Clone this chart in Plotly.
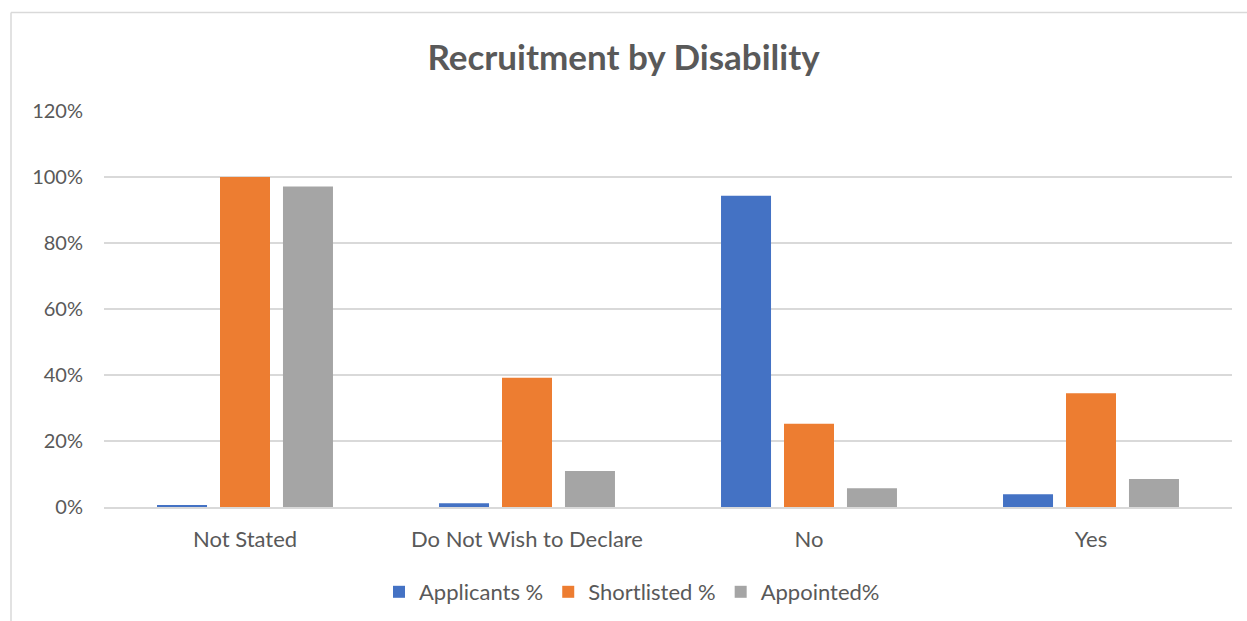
import plotly.graph_objects as go

categories = ["Not Stated", "Do Not Wish to Declare", "No", "Yes"]
applicants = [0.006, 0.011, 0.943, 0.039]
shortlisted = [1.00, 0.392, 0.252, 0.345]
appointed = [0.971, 0.109, 0.057, 0.085]
series_names = ["Applicants %", "Shortlisted %", "Appointed%"]
colors = ["#4472C4", "#ED7D31", "#A5A5A5"]
y_ticks = [0, 0.2, 0.4, 0.6, 0.8, 1.0, 1.2]

W, H = 1247, 621
L, R, T, B = 104, 15, 111, 114
pw, ph = W - L - R, H - T - B

FONT = "Lato, 'Open Sans', sans-serif"
TXT = "#595959"

fig = go.Figure()
for name, vals, c in zip(series_names, [applicants, shortlisted, appointed], colors):
    fig.add_trace(go.Bar(x=categories, y=vals, name=name, marker=dict(color=c, line=dict(width=0))))

def px_to_paper_x(x):
    return (x - L) / pw

def px_to_paper_y(y):
    return (H - B - y) / ph

fig.update_layout(
    width=W, height=H,
    margin=dict(l=L, r=R, t=T, b=B, autoexpand=False),
    paper_bgcolor="white", plot_bgcolor="white",
    barmode="group", bargap=0.33, bargroupgap=0.206,
    title=dict(text="<b>Recruitment by Disability</b>", x=0.5, xanchor="center",
               y=1 - 58 / H, yanchor="middle",
               font=dict(family=FONT, size=35, color=TXT)),
    font=dict(family=FONT, size=22, color=TXT),
    legend=dict(orientation="h", x=px_to_paper_x(632), xanchor="center", y=px_to_paper_y(592), yanchor="middle",
                font=dict(family=FONT, size=22, color=TXT), itemwidth=30, traceorder="normal"),
    xaxis=dict(showgrid=False, showline=True, linecolor="#D9D9D9", linewidth=2, automargin=False,
               ticks="", ticklabelstandoff=12, tickfont=dict(size=22, color=TXT)),
    yaxis=dict(range=[0, 1.2], tickvals=y_ticks, tickformat=".0%", showgrid=True, automargin=False,
               gridcolor="#D9D9D9", gridwidth=1.5, zeroline=False, showline=False,
               ticks="", ticklabelstandoff=20, tickfont=dict(size=20, color=TXT)),
    shapes=[
        dict(type="line", xref="paper", yref="paper", x0=px_to_paper_x(11), x1=px_to_paper_x(W + 5),
             y0=px_to_paper_y(12.5), y1=px_to_paper_y(12.5), line=dict(color="#D9D9D9", width=1.5)),
        dict(type="line", xref="paper", yref="paper", x0=px_to_paper_x(11), x1=px_to_paper_x(11),
             y0=px_to_paper_y(12.5), y1=px_to_paper_y(H + 5), line=dict(color="#D9D9D9", width=1.5)),
    ],
)

fig.write_html("out.html", config={"displayModeBar": False},
               post_script="document.body.style.margin='0';document.body.style.overflow='hidden';")
